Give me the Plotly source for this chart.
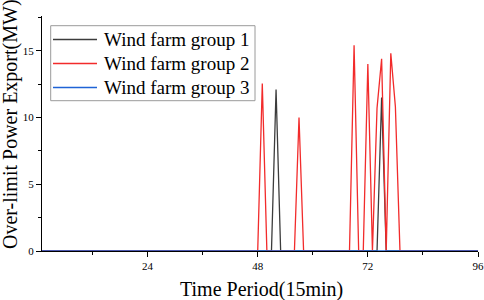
import plotly.graph_objects as go

time_period = list(range(1, 97))

group1 = [
    0, 0, 0, 0, 0, 0, 0, 0, 0, 0, 0, 0,
    0, 0, 0, 0, 0, 0, 0, 0, 0, 0, 0, 0,
    0, 0, 0, 0, 0, 0, 0, 0, 0, 0, 0, 0,
    0, 0, 0, 0, 0, 0, 0, 0, 0, 0, 0, 0,
    0, 0, 0, 12.1, 0, 0, 0, 0, 0, 0, 0, 0,
    0, 0, 0, 0, 0, 0, 0, 0, 0, 0, 0, 0,
    0, 0, 11.5, 0, 0, 0, 0, 0, 0, 0, 0, 0,
    0, 0, 0, 0, 0, 0, 0, 0, 0, 0, 0, 0,
]
group2 = [
    0, 0, 0, 0, 0, 0, 0, 0, 0, 0, 0, 0,
    0, 0, 0, 0, 0, 0, 0, 0, 0, 0, 0, 0,
    0, 0, 0, 0, 0, 0, 0, 0, 0, 0, 0, 0,
    0, 0, 0, 0, 0, 0, 0, 0, 0, 0, 0, 0,
    12.55, 0, 0, 0, 0, 0, 0, 0, 10.0, 0, 0, 0,
    0, 0, 0, 0, 0, 0, 0, 0, 15.4, 0, 0, 14.0,
    0, 10.7, 14.4, 0, 14.8, 10.8, 0, 0, 0, 0, 0, 0,
    0, 0, 0, 0, 0, 0, 0, 0, 0, 0, 0, 0,
]
group3 = [
    0, 0, 0, 0, 0, 0, 0, 0, 0, 0, 0, 0,
    0, 0, 0, 0, 0, 0, 0, 0, 0, 0, 0, 0,
    0, 0, 0, 0, 0, 0, 0, 0, 0, 0, 0, 0,
    0, 0, 0, 0, 0, 0, 0, 0, 0, 0, 0, 0,
    0, 0, 0, 0, 0, 0, 0, 0, 0, 0, 0, 0,
    0, 0, 0, 0, 0, 0, 0, 0, 0, 0, 0, 0,
    0, 0, 0, 0, 0, 0, 0, 0, 0, 0, 0, 0,
    0, 0, 0, 0, 0, 0, 0, 0, 0, 0, 0, 0,
]
series_names = ["Wind farm group 1", "Wind farm group 2", "Wind farm group 3"]
series_colors = ["#3c3c3c", "#f22b2b", "#1f63d6"]
x_title = "Time Period(15min)"
y_title = "Over-limit Power Export(MW)"

SERIF = "Times New Roman, Liberation Serif, serif"

# plot-area geometry in pixels (484x300 canvas)
L, R, T, B = 42, 478, 16, 251
W, H = 484, 300


def px2x(p):
    return (p - L) / (R - L)


def py2y(p):
    return (B - p) / (B - T)


fig = go.Figure()
for name, vals, col in zip(series_names, [group1, group2, group3], series_colors):
    fig.add_trace(go.Scatter(x=time_period, y=vals, mode="lines", name=name,
                             line=dict(color=col, width=1.3), showlegend=False,
                             cliponaxis=False))

shapes = []
annotations = []

# legend (drawn manually to match the compact original box)
shapes.append(dict(type="rect", xref="paper", yref="paper",
                   x0=px2x(50.7), x1=px2x(255), y0=py2y(100.7), y1=py2y(25.7),
                   line=dict(color="#9a9a9a", width=1), fillcolor="white", layer="below"))
row_y = [39.5, 63.5, 87.5]
for name, col, ry in zip(series_names, series_colors, row_y):
    shapes.append(dict(type="line", xref="paper", yref="paper",
                       x0=px2x(53), x1=px2x(97), y0=py2y(ry), y1=py2y(ry),
                       line=dict(color=col, width=1.5)))
    annotations.append(dict(text=name, xref="paper", yref="paper",
                            x=px2x(102), y=py2y(ry), xanchor="left", yanchor="middle",
                            showarrow=False, font=dict(family=SERIF, size=19, color="black")))

# axis titles
annotations.append(dict(text=x_title, xref="paper", yref="paper",
                        x=px2x(261), y=py2y(289), xanchor="center", yanchor="middle",
                        showarrow=False, font=dict(family=SERIF, size=20, color="black")))
annotations.append(dict(text=y_title, xref="paper", yref="paper", textangle=-90,
                        x=px2x(10), y=py2y(124), xanchor="center", yanchor="middle",
                        showarrow=False, font=dict(family=SERIF, size=20, color="black")))

fig.update_layout(
    width=W, height=H,
    margin=dict(l=L, r=W - R, t=T, b=H - B, autoexpand=False),
    plot_bgcolor="white", paper_bgcolor="white",
    font=dict(family=SERIF, color="black"),
    showlegend=False,
    shapes=shapes,
    annotations=annotations,
)
fig.update_xaxes(
    range=[1, 96], tick0=0, dtick=24, automargin=False, layer="below traces",
    showline=True, linecolor="black", linewidth=1,
    ticks="outside", ticklen=5, tickcolor="black",
    minor=dict(dtick=12, tick0=0, ticks="outside", ticklen=3, tickcolor="black"),
    showgrid=False, zeroline=False,
    tickfont=dict(family=SERIF, size=11),
)
fig.update_yaxes(
    range=[0, 17.6], tick0=0, dtick=5, automargin=False, layer="below traces",
    showline=True, linecolor="black", linewidth=1,
    ticks="outside", ticklen=5, tickcolor="black",
    minor=dict(dtick=2.5, tick0=0, ticks="outside", ticklen=3, tickcolor="black"),
    showgrid=False, zeroline=False,
    tickfont=dict(family=SERIF, size=11),
)

fig.write_html("out.html", config={"displayModeBar": False},
               post_script="document.body.style.margin='0';document.body.style.overflow='hidden';")
